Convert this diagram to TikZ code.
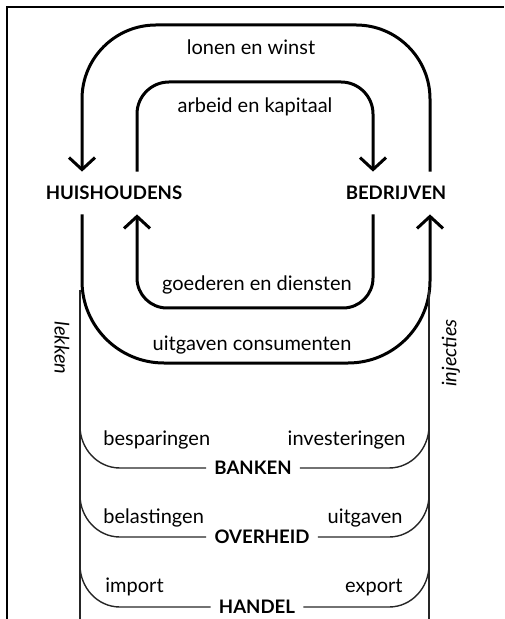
\documentclass[tikz,border=0pt]{standalone}
\usepackage{fontspec}
\setmainfont{Lato}
\usetikzlibrary{arrows.meta}

\tikzset{
    flow/.style={line width=1.5pt,-{Straight Barb[length=6pt,width=13pt]}},
    leak/.style={line width=0.7pt,black!85},
    sector/.style={font=\bfseries\fontsize{9.3}{11}\selectfont,inner sep=0pt,minimum height=21pt},
    side/.style={font=\bfseries\fontsize{9.3}{11}\selectfont,inner sep=4pt},
    lbl/.style={font=\fontsize{10}{12}\selectfont,inner sep=0pt},
}

\begin{document}
\begin{tikzpicture}[x=0.5pt,y=-0.5pt]

    \useasboundingbox (0,0) rectangle (504,619);
    \draw[line width=1pt] (7,619) -- (7,7) -- (504,7);

    % households and firms
    \node[sector] (hh) at (114,193) {HUISHOUDENS};
    \node[sector] (bd) at (396,193) {BEDRIJVEN};

    \coordinate (outL) at (82,0);
    \coordinate (inL) at (137,0);
    \coordinate (inR) at (373,0);
    \coordinate (outR) at (430,0);
    \coordinate (topO) at (0,25);
    \coordinate (topI) at (0,82);
    \coordinate (botI) at (0,308);
    \coordinate (botO) at (0,363);

    % the two upper loops
    \draw[flow,rounded corners=37pt] (bd.north -| outR) -- (outR |- topO) -- (outL |- topO) -- (hh.north -| outL);
    \draw[flow,rounded corners=16pt] (hh.north -| inL) -- (inL |- topI) -- (inR |- topI) -- (bd.north -| inR);

    % the two lower loops
    \draw[flow,rounded corners=15pt] (bd.south -| inR) -- (inR |- botI) -- (inL |- botI) -- (hh.south -| inL);
    \draw[flow,rounded corners=41pt] (hh.south -| outL) -- (outL |- botO) -- (outR |- botO) -- (bd.south -| outR);

    \node[lbl] (lonen) at (251,47) {lonen en winst};
    \node[lbl] (arbeid) at (255,107) {arbeid en kapitaal};
    \node[lbl] (goed) at (257,285) {goederen en diensten};
    \node[lbl] (uitg) at (252,345) {uitgaven consumenten};

    % leaks and injections
    \coordinate (lk1) at (80,290);
    \coordinate (lk2) at (80,619);
    \coordinate (in1) at (429,290);
    \coordinate (in2) at (429,619);
    \draw[leak] (lk1) -- (lk2);
    \draw[leak] (in1) -- (in2);

    \node[lbl,rotate=-90] (lekken) at (62,348) {\itshape lekken};
    \node[lbl,rotate=90] (inj) at (451,353) {\itshape injecties};

    \node[side] (banken) at (253,468) {BANKEN};
    \node[side] (overheid) at (262,537) {OVERHEID};
    \node[side] (handel) at (257,607) {HANDEL};

    \draw[leak] (80,426) to[out=-90,in=180] (120,468) -- (banken.west);
    \draw[leak] (banken.east) -- (389,468) to[out=0,in=-90] (429,426);
    \draw[leak] (80,495) to[out=-90,in=180] (120,537) -- (overheid.west);
    \draw[leak] (overheid.east) -- (389,537) to[out=0,in=-90] (429,495);
    \draw[leak] (80,565) to[out=-90,in=180] (120,607) -- (handel.west);
    \draw[leak] (handel.east) -- (389,607) to[out=0,in=-90] (429,565);

    \node[lbl,anchor=west] (besp) at (103,440) {besparingen};
    \node[lbl,anchor=east] (inv) at (406,440) {investeringen};
    \node[lbl,anchor=west] (bel) at (103,518) {belastingen};
    \node[lbl,anchor=east] (uitgov) at (403,518) {uitgaven};
    \node[lbl,anchor=west] (imp) at (105,587) {import};
    \node[lbl,anchor=east] (exp) at (403,587) {export};

\end{tikzpicture}
\end{document}
